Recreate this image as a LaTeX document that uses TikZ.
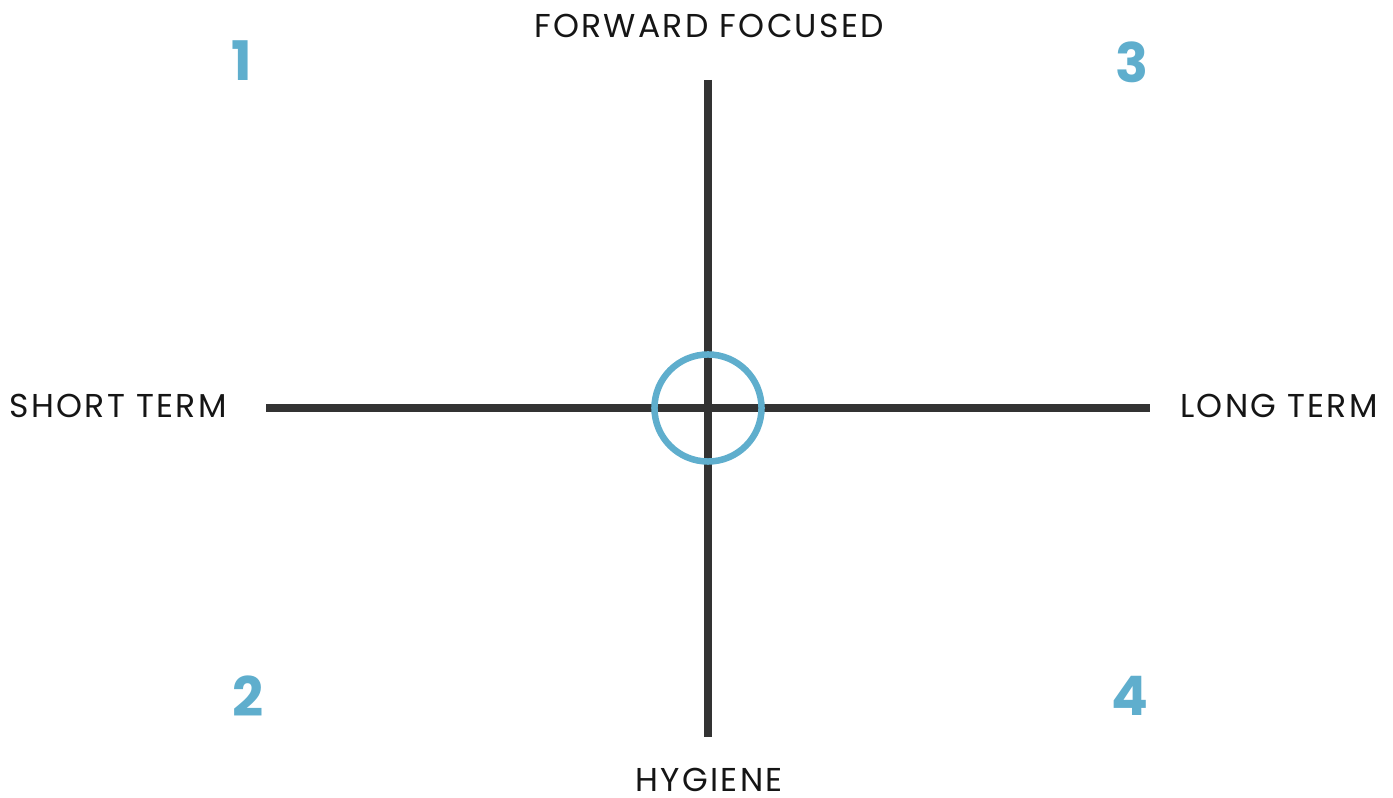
\documentclass[tikz,border=0pt]{standalone}
\usepackage{fontspec}
\setmainfont{Poppins}
\newfontfamily\labelfont[LetterSpace=7]{Poppins}
\usetikzlibrary{positioning}
\definecolor{axisgray}{HTML}{333333}
\definecolor{quadblue}{HTML}{5FAECD}
\definecolor{labelblack}{HTML}{151515}

\begin{document}
\begin{tikzpicture}[x=0.01cm, y=-0.01cm,
  axis/.style={line width=2.3pt, draw=axisgray},
  ring/.style={circle, draw=quadblue, line width=1.85pt, minimum size=1.07cm, inner sep=0pt},
  axislabel/.style={font=\labelfont\fontsize{9.4}{11}\selectfont, text=labelblack, inner sep=0pt},
  quadnum/.style={font=\fontsize{15.5}{18}\selectfont\bfseries, text=quadblue, inner sep=0pt}]
  \useasboundingbox (0,0) rectangle (1393,798);
  % axes
  \coordinate (top) at (708,80);
  \coordinate (bottom) at (708,737);
  \coordinate (left) at (266,408);
  \coordinate (right) at (1150,408);
  \draw[axis] (top) -- (bottom);
  \draw[axis] (left) -- (right);
  \node[ring] (origin) at (708,408) {};
  % axis labels
  \node[axislabel] (fwd) at (709,26) {FORWARD FOCUSED};
  \node[axislabel] (hyg) at (709,780) {HYGIENE};
  \node[axislabel] (short) at (118,406) {SHORT TERM};
  \node[axislabel] (long) at (1279,406) {LONG TERM};
  % quadrant numbers
  \node[quadnum] (q1) at (242,61) {1};
  \node[quadnum] (q2) at (248,696) {2};
  \node[quadnum] (q3) at (1132,62) {3};
  \node[quadnum] (q4) at (1130,696) {4};
\end{tikzpicture}
\end{document}
